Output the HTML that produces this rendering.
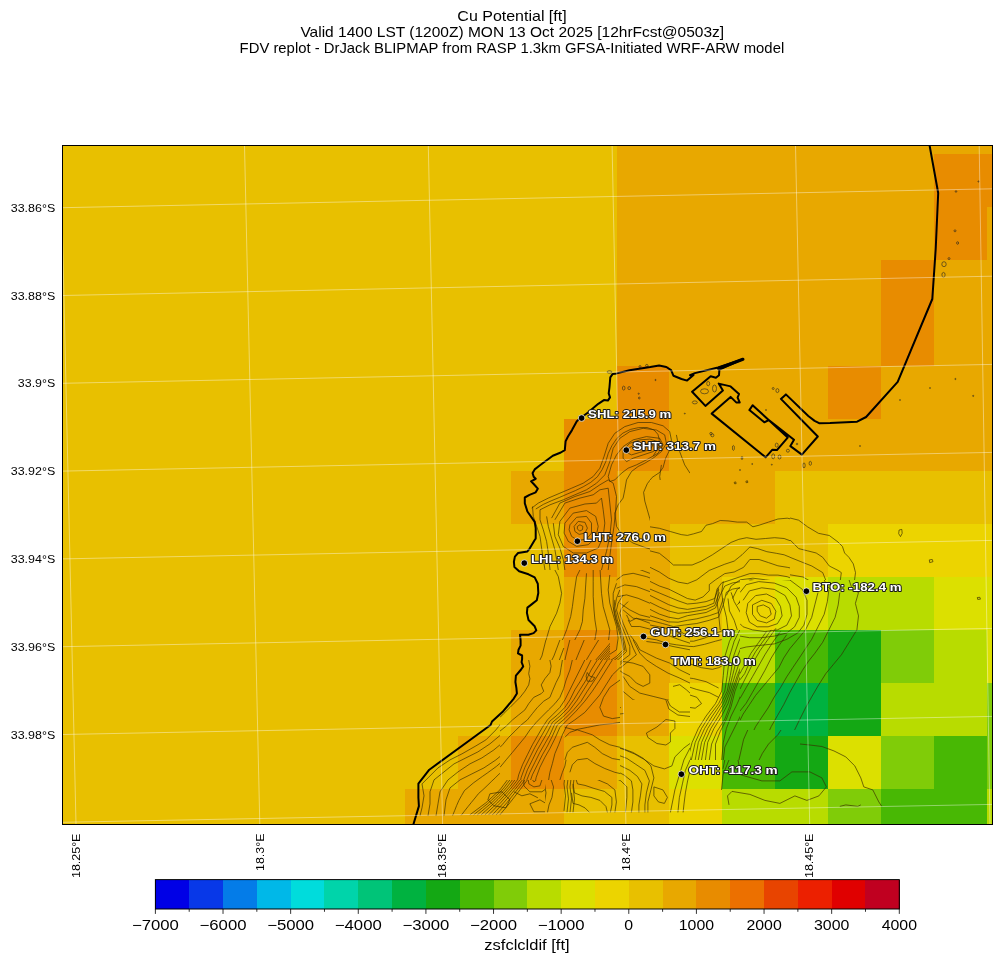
<!DOCTYPE html>
<html><head><meta charset="utf-8"><style>
html,body{margin:0;padding:0;background:#fff;width:1001px;height:962px;overflow:hidden}
svg{display:block;will-change:transform}
text{font-family:"Liberation Sans",sans-serif;fill:#000}
.tt{font-size:14.1px}
.tk{font-size:11.3px}
.cb{font-size:14.1px}
.st{font-family:"Liberation Sans",sans-serif;font-weight:bold;font-size:11.3px;fill:#fff;stroke:#1a1a1a;stroke-width:1.8px;paint-order:stroke;stroke-linejoin:round}
</style></head><body>
<svg width="1001" height="962" viewBox="0 0 1001 962">
<rect x="0" y="0" width="1001" height="962" fill="#fff"/>
<defs><clipPath id="mc"><rect x="62.5" y="145.5" width="930.0" height="679.0"/></clipPath></defs>
<g clip-path="url(#mc)">
<g shape-rendering="crispEdges"><rect x="62.5" y="145.5" width="930.0" height="679.0" fill="#E8C000"/>
<rect x="616.60" y="145.50" width="52.90" height="8.55" fill="#E8A800"/>
<rect x="669.45" y="145.50" width="52.90" height="8.55" fill="#E8A800"/>
<rect x="722.30" y="145.50" width="52.90" height="8.55" fill="#E8A800"/>
<rect x="775.15" y="145.50" width="52.90" height="8.55" fill="#E8A800"/>
<rect x="828.00" y="145.50" width="52.90" height="8.55" fill="#E8A800"/>
<rect x="880.85" y="145.50" width="52.90" height="8.55" fill="#E8A800"/>
<rect x="933.70" y="145.50" width="52.90" height="8.55" fill="#E8A800"/>
<rect x="986.55" y="145.50" width="6.00" height="8.55" fill="#E8A800"/>
<rect x="616.60" y="154.00" width="52.90" height="52.95" fill="#E8A800"/>
<rect x="669.45" y="154.00" width="52.90" height="52.95" fill="#E8A800"/>
<rect x="722.30" y="154.00" width="52.90" height="52.95" fill="#E8A800"/>
<rect x="775.15" y="154.00" width="52.90" height="52.95" fill="#E8A800"/>
<rect x="828.00" y="154.00" width="52.90" height="52.95" fill="#E8A800"/>
<rect x="880.85" y="154.00" width="52.90" height="52.95" fill="#E8A800"/>
<rect x="933.70" y="154.00" width="52.90" height="52.95" fill="#E88C00"/>
<rect x="986.55" y="154.00" width="6.00" height="52.95" fill="#E88C00"/>
<rect x="616.60" y="206.90" width="52.90" height="52.95" fill="#E8A800"/>
<rect x="669.45" y="206.90" width="52.90" height="52.95" fill="#E8A800"/>
<rect x="722.30" y="206.90" width="52.90" height="52.95" fill="#E8A800"/>
<rect x="775.15" y="206.90" width="52.90" height="52.95" fill="#E8A800"/>
<rect x="828.00" y="206.90" width="52.90" height="52.95" fill="#E8A800"/>
<rect x="880.85" y="206.90" width="52.90" height="52.95" fill="#E8A800"/>
<rect x="933.70" y="206.90" width="52.90" height="52.95" fill="#E88C00"/>
<rect x="986.55" y="206.90" width="6.00" height="52.95" fill="#E8A800"/>
<rect x="616.60" y="259.80" width="52.90" height="52.95" fill="#E8A800"/>
<rect x="669.45" y="259.80" width="52.90" height="52.95" fill="#E8A800"/>
<rect x="722.30" y="259.80" width="52.90" height="52.95" fill="#E8A800"/>
<rect x="775.15" y="259.80" width="52.90" height="52.95" fill="#E8A800"/>
<rect x="828.00" y="259.80" width="52.90" height="52.95" fill="#E8A800"/>
<rect x="880.85" y="259.80" width="52.90" height="52.95" fill="#E88C00"/>
<rect x="933.70" y="259.80" width="52.90" height="52.95" fill="#E8A800"/>
<rect x="986.55" y="259.80" width="6.00" height="52.95" fill="#E8A800"/>
<rect x="616.60" y="312.70" width="52.90" height="52.95" fill="#E8A800"/>
<rect x="669.45" y="312.70" width="52.90" height="52.95" fill="#E8A800"/>
<rect x="722.30" y="312.70" width="52.90" height="52.95" fill="#E8A800"/>
<rect x="775.15" y="312.70" width="52.90" height="52.95" fill="#E8A800"/>
<rect x="828.00" y="312.70" width="52.90" height="52.95" fill="#E8A800"/>
<rect x="880.85" y="312.70" width="52.90" height="52.95" fill="#E88C00"/>
<rect x="933.70" y="312.70" width="52.90" height="52.95" fill="#E8A800"/>
<rect x="986.55" y="312.70" width="6.00" height="52.95" fill="#E8A800"/>
<rect x="616.60" y="365.60" width="52.90" height="52.95" fill="#E88C00"/>
<rect x="669.45" y="365.60" width="52.90" height="52.95" fill="#E8A800"/>
<rect x="722.30" y="365.60" width="52.90" height="52.95" fill="#E8A800"/>
<rect x="775.15" y="365.60" width="52.90" height="52.95" fill="#E8A800"/>
<rect x="828.00" y="365.60" width="52.90" height="52.95" fill="#E88C00"/>
<rect x="880.85" y="365.60" width="52.90" height="52.95" fill="#E8A800"/>
<rect x="933.70" y="365.60" width="52.90" height="52.95" fill="#E8A800"/>
<rect x="986.55" y="365.60" width="6.00" height="52.95" fill="#E8A800"/>
<rect x="563.75" y="418.50" width="52.90" height="52.95" fill="#E88C00"/>
<rect x="616.60" y="418.50" width="52.90" height="52.95" fill="#E88C00"/>
<rect x="669.45" y="418.50" width="52.90" height="52.95" fill="#E8A800"/>
<rect x="722.30" y="418.50" width="52.90" height="52.95" fill="#E8A800"/>
<rect x="775.15" y="418.50" width="52.90" height="52.95" fill="#E8A800"/>
<rect x="828.00" y="418.50" width="52.90" height="52.95" fill="#E8A800"/>
<rect x="880.85" y="418.50" width="52.90" height="52.95" fill="#E8A800"/>
<rect x="933.70" y="418.50" width="52.90" height="52.95" fill="#E8A800"/>
<rect x="986.55" y="418.50" width="6.00" height="52.95" fill="#E8A800"/>
<rect x="510.90" y="471.40" width="52.90" height="52.95" fill="#E8A800"/>
<rect x="563.75" y="471.40" width="52.90" height="52.95" fill="#E88C00"/>
<rect x="616.60" y="471.40" width="52.90" height="52.95" fill="#E8A800"/>
<rect x="669.45" y="471.40" width="52.90" height="52.95" fill="#E8A800"/>
<rect x="722.30" y="471.40" width="52.90" height="52.95" fill="#E8A800"/>
<rect x="563.75" y="524.30" width="52.90" height="52.95" fill="#E88C00"/>
<rect x="616.60" y="524.30" width="52.90" height="52.95" fill="#E8A800"/>
<rect x="828.00" y="524.30" width="52.90" height="52.95" fill="#ECD400"/>
<rect x="880.85" y="524.30" width="52.90" height="52.95" fill="#ECD400"/>
<rect x="933.70" y="524.30" width="52.90" height="52.95" fill="#ECD400"/>
<rect x="986.55" y="524.30" width="6.00" height="52.95" fill="#ECD400"/>
<rect x="563.75" y="577.20" width="52.90" height="52.95" fill="#E8A800"/>
<rect x="616.60" y="577.20" width="52.90" height="52.95" fill="#E8A800"/>
<rect x="722.30" y="577.20" width="52.90" height="52.95" fill="#ECD400"/>
<rect x="775.15" y="577.20" width="52.90" height="52.95" fill="#DCE000"/>
<rect x="828.00" y="577.20" width="52.90" height="52.95" fill="#B8DC00"/>
<rect x="880.85" y="577.20" width="52.90" height="52.95" fill="#B8DC00"/>
<rect x="933.70" y="577.20" width="52.90" height="52.95" fill="#DCE000"/>
<rect x="986.55" y="577.20" width="6.00" height="52.95" fill="#DCE000"/>
<rect x="510.90" y="630.10" width="52.90" height="52.95" fill="#E8A800"/>
<rect x="563.75" y="630.10" width="52.90" height="52.95" fill="#E88C00"/>
<rect x="616.60" y="630.10" width="52.90" height="52.95" fill="#E8A800"/>
<rect x="722.30" y="630.10" width="52.90" height="52.95" fill="#B8DC00"/>
<rect x="775.15" y="630.10" width="52.90" height="52.95" fill="#48B804"/>
<rect x="828.00" y="630.10" width="52.90" height="52.95" fill="#14A814"/>
<rect x="880.85" y="630.10" width="52.90" height="52.95" fill="#80CC08"/>
<rect x="933.70" y="630.10" width="52.90" height="52.95" fill="#B8DC00"/>
<rect x="986.55" y="630.10" width="6.00" height="52.95" fill="#DCE000"/>
<rect x="510.90" y="683.00" width="52.90" height="52.95" fill="#E8A800"/>
<rect x="563.75" y="683.00" width="52.90" height="52.95" fill="#E88C00"/>
<rect x="616.60" y="683.00" width="52.90" height="52.95" fill="#E8A800"/>
<rect x="669.45" y="683.00" width="52.90" height="52.95" fill="#ECD400"/>
<rect x="722.30" y="683.00" width="52.90" height="52.95" fill="#48B804"/>
<rect x="775.15" y="683.00" width="52.90" height="52.95" fill="#00B240"/>
<rect x="828.00" y="683.00" width="52.90" height="52.95" fill="#14A814"/>
<rect x="880.85" y="683.00" width="52.90" height="52.95" fill="#B8DC00"/>
<rect x="933.70" y="683.00" width="52.90" height="52.95" fill="#B8DC00"/>
<rect x="986.55" y="683.00" width="6.00" height="52.95" fill="#80CC08"/>
<rect x="458.05" y="735.90" width="52.90" height="52.95" fill="#E8A800"/>
<rect x="510.90" y="735.90" width="52.90" height="52.95" fill="#E88C00"/>
<rect x="563.75" y="735.90" width="52.90" height="52.95" fill="#E8A800"/>
<rect x="669.45" y="735.90" width="52.90" height="52.95" fill="#DCE000"/>
<rect x="722.30" y="735.90" width="52.90" height="52.95" fill="#48B804"/>
<rect x="775.15" y="735.90" width="52.90" height="52.95" fill="#14A814"/>
<rect x="828.00" y="735.90" width="52.90" height="52.95" fill="#DCE000"/>
<rect x="880.85" y="735.90" width="52.90" height="52.95" fill="#80CC08"/>
<rect x="933.70" y="735.90" width="52.90" height="52.95" fill="#48B804"/>
<rect x="986.55" y="735.90" width="6.00" height="52.95" fill="#80CC08"/>
<rect x="405.20" y="788.80" width="52.90" height="35.75" fill="#E8A800"/>
<rect x="458.05" y="788.80" width="52.90" height="35.75" fill="#E8A800"/>
<rect x="510.90" y="788.80" width="52.90" height="35.75" fill="#E8A800"/>
<rect x="669.45" y="788.80" width="52.90" height="35.75" fill="#ECD400"/>
<rect x="722.30" y="788.80" width="52.90" height="35.75" fill="#B8DC00"/>
<rect x="775.15" y="788.80" width="52.90" height="35.75" fill="#B8DC00"/>
<rect x="828.00" y="788.80" width="52.90" height="35.75" fill="#80CC08"/>
<rect x="880.85" y="788.80" width="52.90" height="35.75" fill="#48B804"/>
<rect x="933.70" y="788.80" width="52.90" height="35.75" fill="#48B804"/>
<rect x="986.55" y="788.80" width="6.00" height="35.75" fill="#B8DC00"/></g>
<defs><clipPath id="ct0"><rect x="500.0" y="365.0" width="100.0" height="45.0"/><rect x="500.0" y="410.0" width="20.0" height="75.0"/></clipPath><clipPath id="ct1"><rect x="600.0" y="365.0" width="120.0" height="45.0"/><rect x="690.0" y="410.0" width="30.0" height="75.0"/></clipPath><clipPath id="ct2"><rect x="500.0" y="485.0" width="20.0" height="120.0"/></clipPath><clipPath id="ct3"><rect x="650.0" y="480.0" width="140.0" height="100.0"/><rect x="650.0" y="580.0" width="90.0" height="50.0"/></clipPath><clipPath id="ct4"><rect x="790.0" y="470.0" width="210.0" height="110.0"/><rect x="890.0" y="580.0" width="110.0" height="100.0"/></clipPath><clipPath id="ct5"><rect x="410.0" y="600.0" width="110.0" height="40.0"/></clipPath><clipPath id="ct6"><rect x="520.0" y="570.0" width="130.0" height="60.0"/><rect x="520.0" y="630.0" width="170.0" height="10.0"/><rect x="620.0" y="640.0" width="70.0" height="60.0"/><rect x="610.0" y="640.0" width="10.0" height="20.0"/></clipPath><clipPath id="ct7"><rect x="690.0" y="630.0" width="50.0" height="130.0"/><rect x="740.0" y="730.0" width="60.0" height="30.0"/></clipPath><clipPath id="ct8"><rect x="0.0" y="0.0" width="0.0" height="0.0"/></clipPath><clipPath id="ct9"><rect x="620.0" y="700.0" width="70.0" height="130.0"/><rect x="545.0" y="780.0" width="75.0" height="50.0"/></clipPath><clipPath id="ct10"><rect x="690.0" y="760.0" width="110.0" height="70.0"/><rect x="890.0" y="680.0" width="110.0" height="150.0"/><rect x="800.0" y="730.0" width="90.0" height="100.0"/></clipPath><clipPath id="ct11"><rect x="520.0" y="410.0" width="170.0" height="70.0"/><rect x="520.0" y="480.0" width="130.0" height="90.0"/></clipPath><clipPath id="ct12"><rect x="400.0" y="640.0" width="100.0" height="190.0"/><rect x="500.0" y="640.0" width="110.0" height="20.0"/><rect x="500.0" y="780.0" width="45.0" height="50.0"/></clipPath><clipPath id="ct13"><rect x="500.0" y="660.0" width="120.0" height="120.0"/></clipPath><clipPath id="ct14"><rect x="740.0" y="580.0" width="150.0" height="150.0"/></clipPath></defs><g fill="none" stroke="#3a2e00" stroke-opacity="0.8" stroke-width="0.85" stroke-linejoin="round"><g clip-path="url(#ct0)">
<polyline points="548.7,485.0 563.7,485.0 571.2,481.0 579.9,477.3 586.1,472.3 591.1,464.8 593.6,454.8 597.4,444.8 601.1,437.3 606.1,431.1 612.3,426.1 619.8,423.0 629.8,421.8 639.8,422.4 650.0,423.6"/>
<polyline points="578.6,485.0 584.9,481.0 589.9,474.8 594.9,467.3 598.0,457.3 601.1,448.6 604.8,441.1 609.8,436.1 616.1,432.4 622.3,428.6 629.8,427.4 637.3,428.6 644.8,431.1 650.0,432.4"/>
<polyline points="592.4,485.0 596.1,477.3 599.9,469.8 602.3,459.8 604.8,452.3 608.6,444.8 613.6,439.8 619.8,436.1 626.0,433.6 633.5,433.0 639.8,434.2 646.0,436.7 650.0,437.3"/>
<polyline points="597.4,485.0 601.1,477.3 604.8,468.5 607.3,459.8 609.8,452.3 614.8,447.3 621.1,442.3 628.5,439.8 636.0,439.8 642.3,442.3 650.0,444.8"/>
<polyline points="617.3,457.3 619.8,451.1 624.8,446.1 632.3,444.8 638.5,447.3 642.3,451.1 639.8,454.8 633.5,456.1 627.3,457.3 622.3,459.8 617.3,463.5 616.1,461.0 617.3,457.3"/>
<polyline points="607.3,485.0 609.8,474.8 612.3,467.3 617.3,463.5"/>
<polyline points="619.8,467.3 624.8,464.8 629.8,463.5 636.0,461.0 642.3,459.8 650.0,458.6"/>
<polyline points="629.8,485.0 631.0,477.3 634.8,472.3 642.3,469.8 650.0,468.5"/>
<polyline points="642.3,485.0 646.0,479.8 650.0,477.3"/>
</g>
<g clip-path="url(#ct1)">
<polyline points="600.0,446.1 603.7,437.3 610.0,429.9 618.7,424.9 628.7,422.4 639.9,421.7 649.9,423.0 658.6,424.2 666.1,425.5 671.1,429.2 673.6,434.8 673.6,441.1 671.1,447.3 668.0,452.3 665.5,459.8 663.6,468.5 662.4,480.0"/>
<polyline points="602.5,454.8 607.5,442.3 613.7,433.6 622.5,429.2 632.4,428.0 642.4,429.9 652.4,432.3 659.9,434.8 664.9,437.3 667.4,442.3 663.6,447.3 658.0,451.1 654.9,457.3 653.6,466.0 653.0,480.0"/>
<polyline points="608.7,459.8 612.5,447.3 618.7,438.6 627.4,434.8 636.2,434.8 643.7,437.3 651.1,439.8 656.1,442.3 654.9,447.3 649.9,451.1 644.9,454.8 641.2,461.0 638.0,468.5 636.2,480.0"/>
<polyline points="622.5,446.1 626.2,441.1 633.7,439.8 639.9,441.1 644.9,444.8 641.2,449.8 634.9,452.3 628.7,454.8 623.7,452.3 622.5,446.1"/>
<polyline points="615.0,480.0 617.5,469.8 621.2,462.3 624.9,458.5 629.9,457.3"/>
</g>
<g clip-path="url(#ct2)">
<polyline points="576.2,526.2 579.9,522.4 583.6,524.9 583.6,529.9 579.9,532.4 576.8,530.5 576.2,526.2"/>
<polyline points="572.4,526.2 577.4,519.9 584.9,521.2 587.4,528.7 584.9,534.9 579.9,536.1 574.9,533.6 572.4,526.2"/>
<polyline points="567.4,522.4 573.7,516.2 583.6,514.9 591.1,518.7 593.6,527.4 591.1,536.1 584.9,541.1 577.4,542.4 571.2,538.6 567.4,531.2 567.4,522.4"/>
<polyline points="562.4,518.7 569.9,511.2 582.4,509.9 593.6,512.4 598.6,522.4 597.4,534.9 593.6,543.6 586.1,548.6 576.2,549.9 568.7,546.1 563.7,537.4 561.2,527.4 562.4,518.7"/>
<polyline points="556.2,514.9 564.9,506.2 577.4,503.7 588.6,502.5 594.9,497.5 602.3,495.0 602.3,503.7 601.1,516.2 603.6,528.7 602.3,541.1 599.9,549.9 592.4,554.9 582.4,557.3 574.9,556.1 566.2,552.4 559.9,544.9 556.2,534.9 554.9,524.9 556.2,514.9"/>
<polyline points="532.5,502.3 540.0,497.3 551.2,491.1 563.7,484.9"/>
<polyline points="540.0,509.8 548.7,503.6 561.2,498.6 573.7,494.9 582.4,491.1 589.9,484.9"/>
<polyline points="543.7,508.6 554.9,504.8 567.4,502.3 579.9,499.8 587.4,496.1 594.9,489.9 599.9,483.6"/>
<polyline points="535.0,498.7 532.5,507.5 535.0,517.4 540.0,526.2 542.5,537.4 543.7,549.9 547.5,562.3 551.2,574.8 554.9,588.5 557.4,605.0"/>
<polyline points="541.2,507.5 542.5,517.4 545.0,526.2 547.5,537.4 550.0,549.9 554.9,562.3 558.7,574.8 562.4,588.5 564.9,605.0"/>
<polyline points="550.0,516.2 550.0,526.2 551.8,537.4 554.9,547.4 559.9,557.3 564.9,567.3 568.7,577.3 571.2,589.8 573.0,605.0"/>
<polyline points="579.9,564.8 578.6,572.3 577.4,582.3 578.6,592.3 579.9,605.0"/>
<polyline points="586.1,566.1 587.4,574.8 588.6,584.8 589.9,594.8 591.1,605.0"/>
<polyline points="594.9,559.8 594.9,569.8 597.4,579.8 599.9,589.8 601.1,605.0"/>
<polyline points="604.8,485.0 603.6,495.0 606.1,505.0 608.6,516.2 608.6,528.7 607.3,541.1 608.6,552.4 611.1,562.3 612.3,572.3 611.1,584.8 612.3,597.3 613.6,605.0"/>
<polyline points="619.8,485.0 621.1,497.5 624.8,509.9 622.3,522.4 624.8,532.4 627.3,539.9 629.8,547.4 632.3,554.9 636.0,559.8 642.3,562.3 650.0,564.8"/>
<polyline points="642.3,485.0 643.5,495.0 648.5,503.7 650.0,509.9"/>
<polyline points="617.3,564.8 629.8,569.8 642.3,572.3 650.0,574.8"/>
<polyline points="611.1,574.8 617.3,582.3 627.3,584.8 636.0,588.5 650.0,591.0"/>
<polyline points="612.3,591.0 622.3,594.8 632.3,597.3 642.3,601.0 650.0,603.5"/>
</g>
<g clip-path="url(#ct3)">
<polyline points="650.0,526.8 659.4,528.3 670.3,531.5 681.2,534.6 687.4,535.4 693.7,533.8 701.5,531.5 706.1,525.2 712.4,523.7 720.2,520.5 728.0,520.9 737.3,522.1 746.7,522.1 752.9,526.8 759.1,525.2 768.5,522.1 777.9,519.0 787.2,518.2 795.0,519.8 800.0,522.1"/>
<polyline points="650.0,550.9 659.4,553.3 667.2,559.5 673.4,565.0 681.2,565.0 692.1,565.0 701.5,561.1 712.4,554.8 721.7,548.6 731.1,542.4 738.9,539.3 746.7,537.7 756.0,539.3 765.4,538.5 774.7,537.7 784.1,538.5 790.3,540.8 796.6,547.0 800.0,550.2"/>
<polyline points="650.0,567.3 659.4,572.0 668.7,578.2 678.1,582.1 687.4,583.7 696.8,579.8 703.0,575.1 709.3,570.4 717.0,567.3 724.8,564.2 734.2,561.1 742.0,554.8 749.8,547.0 757.6,548.6 766.9,551.7 776.3,553.3 784.1,554.8 791.9,558.0 800.0,561.1"/>
<polyline points="650.0,581.4 659.4,586.0 668.7,589.1 678.1,593.8 687.4,598.5 695.2,600.1 703.0,596.9 709.3,590.7 709.3,584.5 715.5,579.8 724.8,573.6 734.2,572.0 743.6,567.3 749.8,559.5 759.1,559.5 768.5,562.6 777.9,565.8 787.2,567.3 795.0,568.9 800.0,570.4"/>
<polyline points="650.0,595.4 659.4,600.1 668.7,604.7 678.1,607.9 687.4,609.4 696.8,607.9 706.1,606.3 713.9,603.2 717.0,589.1 721.7,582.9 731.1,579.8 740.4,576.7 749.8,573.6 759.1,573.6 768.5,575.1 777.9,575.1 787.2,576.7 795.0,579.8 800.0,582.9"/>
<polyline points="650.0,609.4 659.4,614.1 668.7,617.2 678.1,618.8 687.4,615.7 696.8,614.1 706.1,612.5 715.5,607.9 720.2,595.4 724.8,586.0 732.6,582.9 742.0,581.4 751.4,579.8 759.1,581.4 766.9,582.9 774.7,584.5 784.1,586.0 791.9,589.1 800.0,592.3"/>
<polyline points="650.0,620.3 662.5,623.5 673.4,626.6 684.3,625.0 696.8,623.5 709.3,620.3 718.6,617.2 723.3,604.7 726.4,592.3 732.6,589.1 740.4,587.6 749.8,586.0 759.1,587.6 768.5,589.1 777.9,590.7 785.7,593.8 790.3,598.5 795.0,603.2 800.0,606.3"/>
<polyline points="757.6,609.4 762.3,604.7 768.5,606.3 770.8,611.0 768.5,617.2 763.8,618.0 759.1,614.1 757.6,609.4"/>
<polyline points="752.9,607.9 759.1,601.6 770.1,603.2 774.7,609.4 773.2,618.8 766.9,621.9 759.1,620.3 753.7,614.1 752.9,607.9"/>
<polyline points="737.3,604.7 743.6,598.5 752.9,595.4 765.4,595.4 774.7,598.5 781.0,604.7 782.5,614.1 779.4,623.5 774.7,630.0"/>
<polyline points="731.1,592.3 734.2,601.6 740.4,612.5 746.7,623.5 749.8,630.0"/>
<polyline points="728.0,598.5 729.5,611.0 734.2,620.3 737.3,630.0"/>
<polyline points="781.0,589.1 787.2,592.3 791.9,598.5 795.0,607.9 796.6,617.2 798.1,630.0"/>
<polyline points="784.1,598.5 788.8,604.7 790.3,614.1 790.3,623.5 788.8,630.0"/>
<polyline points="650.0,625.0 665.6,628.1 673.4,630.0"/>
<polyline points="743.6,604.7 749.8,598.5 759.1,595.4 768.5,596.2 776.3,600.1 781.0,606.3 781.0,615.7 776.3,623.5 768.5,628.1 759.1,628.1 749.8,623.5 745.1,615.7 743.6,604.7"/>
<polyline points="738.9,603.2 743.6,593.8 752.9,589.1 765.4,589.1 774.7,592.3 782.5,598.5 787.2,606.3 787.2,617.2 782.5,626.6 777.9,630.0"/>
<polyline points="732.6,598.5 737.3,589.1 746.7,584.5 759.1,582.9 771.6,584.5 781.0,589.1 788.8,593.8 793.5,603.2 795.0,612.5 793.5,623.5 790.3,630.0"/>
<polyline points="726.4,595.4 731.1,586.0 740.4,579.8 752.9,578.2 765.4,579.8 776.3,581.4 785.7,586.0 793.5,590.7 798.1,598.5 800.0,604.7"/>
<polyline points="723.3,581.4 721.7,592.3 723.3,604.7 726.4,617.2 728.0,630.0"/>
<polyline points="718.6,589.1 717.0,601.6 718.6,614.1 720.2,630.0"/>
<polyline points="650.0,589.1 659.4,593.0 668.7,596.9 678.1,600.8 687.4,604.0 696.8,603.2 706.1,601.6 714.7,598.5 718.6,587.6"/>
<polyline points="650.0,602.4 659.4,607.1 668.7,611.0 678.1,613.3 687.4,612.5 696.8,611.0 706.1,609.4 714.7,605.5 719.4,592.3"/>
<polyline points="650.0,615.7 659.4,618.8 668.7,621.9 678.1,622.2 687.4,620.3 696.8,618.8 709.3,615.7 718.6,612.5 723.3,598.5"/>
<polyline points="734.2,482.3 735.8,481.9 736.1,483.7 734.5,483.7 734.2,482.3"/>
<polyline points="745.9,481.2 747.5,480.8 747.8,482.5 746.2,482.7 745.9,481.2"/>
</g>
<g clip-path="url(#ct4)">
<polyline points="790.0,518.0 798.7,520.2 807.5,526.8 818.4,533.3 829.3,535.5 838.0,542.0 842.4,546.4 844.6,553.0 848.9,557.3 853.3,563.9 855.5,572.6 854.4,581.3 853.3,592.2 855.5,601.0 857.7,611.9 859.9,620.6 857.7,627.2 855.5,633.7 851.1,640.3 846.8,649.0 840.2,657.7 833.7,666.5 827.1,675.2 822.7,680.0"/>
<polyline points="790.0,539.9 798.7,548.6 807.5,550.8 816.2,553.0 822.7,557.3 829.3,566.0 838.0,570.4 841.3,572.6 840.2,581.3 836.9,592.2 835.8,601.0 840.2,609.7 842.4,618.4 840.2,627.2 835.8,635.9 829.3,644.6 822.7,655.5 816.2,666.5 809.6,680.0"/>
<polyline points="790.0,557.3 800.9,561.7 811.8,566.0 822.7,572.6 827.1,583.5 828.2,594.4 829.3,605.3 827.1,618.4 822.7,629.4 816.2,640.3 807.5,651.2 800.9,662.1 794.4,673.0 790.0,680.0"/>
<polyline points="790.0,574.8 803.1,577.0 814.0,583.5 818.4,592.2 818.4,605.3 814.0,618.4 807.5,629.4 800.9,642.5 794.4,655.5 790.0,662.1"/>
<polyline points="790.0,587.9 796.5,592.2 798.7,598.8 794.4,605.3 790.0,607.5"/>
<polyline points="790.0,583.5 800.9,587.9 803.1,598.8 798.7,609.7 790.0,616.3"/>
<polyline points="899.1,530.0 901.8,529.4 902.2,533.3 900.5,536.6 898.7,533.7 899.1,530.0"/>
<polyline points="929.3,559.9 932.3,559.5 933.0,561.7 929.7,562.6 929.3,559.9"/>
<polyline points="977.3,597.5 979.9,597.3 980.4,599.2 977.7,599.4 977.3,597.5"/>
</g>
<g clip-path="url(#ct5)">
<polyline points="563.0,600.0 553.1,620.0 548.1,633.3 544.7,648.2 536.4,661.5 528.9,674.8 529.8,686.5 519.8,696.5 509.8,708.1 503.2,719.8 494.8,729.7 483.2,741.4 473.2,749.7 461.6,757.2 458.3,760.0"/>
<polyline points="573.0,600.0 570.5,620.0 564.7,633.3 556.4,643.2 551.4,654.9 551.4,666.5 543.1,678.2 539.8,684.8 543.9,691.5 534.8,696.5 526.4,706.4 518.1,716.4 508.1,728.1 499.8,736.4 491.5,746.4 484.9,754.7 481.5,760.0"/>
<polyline points="580.0,638.3 569.7,649.9 561.4,663.2 558.0,673.2 551.4,683.2 548.1,693.1 543.1,703.1 534.8,713.1 526.4,724.7 516.5,736.4 508.1,746.4 501.5,756.3 499.8,760.0"/>
<polyline points="580.0,654.9 573.0,666.5 566.4,678.2 561.4,689.8 556.4,699.8 549.7,709.8 541.4,719.8 533.1,731.4 523.1,743.0 514.8,754.7 511.5,760.0"/>
<polyline points="580.0,669.9 574.7,679.8 569.7,689.8 564.7,699.8 558.0,709.8 551.4,719.8 543.1,731.4 534.8,743.0 526.4,754.7 523.1,760.0"/>
<polyline points="580.0,679.8 576.3,689.8 571.4,699.8 566.4,708.1 559.7,716.4 553.1,726.4 546.4,738.0 539.8,749.7 534.8,760.0"/>
<polyline points="580.0,689.8 578.0,699.8 573.0,708.1 568.0,714.8 561.4,723.1 554.7,733.1 549.7,744.7 544.7,754.7 543.1,760.0"/>
<polyline points="580.0,699.8 576.3,709.8 569.7,716.4 564.7,724.7 558.0,734.7 553.1,746.4 549.7,760.0"/>
</g>
<g clip-path="url(#ct6)">
<polyline points="554.9,570.0 558.3,576.6 561.6,593.3 559.9,603.2 556.6,613.2 550.0,626.5 546.6,638.2 543.3,649.8 540.0,663.1 536.7,673.1 533.3,683.1 530.0,691.4"/>
<polyline points="579.9,570.0 576.6,576.6 574.1,593.3 572.4,606.6 570.7,616.5 566.6,629.9 563.3,638.2 556.6,649.8 551.6,659.8 548.3,669.8 545.0,679.8 541.6,689.7 540.0,699.7 536.7,709.7 535.0,720.0"/>
<polyline points="586.5,573.3 585.7,584.9 584.9,598.3 583.2,609.9 582.4,621.5 579.9,629.9 574.9,639.8 569.9,649.8 564.9,659.8 560.8,669.8 556.6,679.8 552.5,689.7 548.3,699.7 545.0,709.7 541.6,720.0"/>
<polyline points="593.2,568.3 593.2,581.6 593.2,596.6 594.0,609.9 594.9,619.9 596.5,629.9 594.9,639.8 586.5,648.1 578.2,656.5 571.6,666.4 566.6,676.4 561.6,686.4 556.6,696.4 551.6,706.4 548.3,720.0"/>
<polyline points="599.9,566.7 600.7,580.0 601.5,593.3 603.2,606.6 606.5,618.2 609.8,629.9 608.2,643.2 599.9,651.5 589.9,659.8 581.6,669.8 574.9,679.8 569.9,689.7 564.9,699.7 559.9,709.7 556.6,720.0"/>
<polyline points="609.8,575.0 608.2,589.9 609.8,603.2 613.2,614.9 616.5,626.5 618.1,638.2 616.5,649.8 606.5,656.5 596.5,663.1 588.2,673.1 581.6,683.1 574.9,693.1 569.9,703.0 564.9,713.0 563.3,720.0"/>
<polyline points="616.5,583.3 613.2,593.3 613.2,606.6 614.8,616.5 618.1,628.2 621.5,639.8 623.1,649.8 616.5,656.5 606.5,663.1 596.5,673.1 589.9,683.1 583.2,693.1 576.6,703.0 571.6,713.0 569.9,720.0"/>
<polyline points="619.8,589.9 616.5,598.3 614.8,608.2 617.3,619.9 621.5,631.5 624.8,643.2 626.5,651.5 619.8,658.1 609.8,666.4 599.9,676.4 593.2,686.4 586.5,696.4 579.9,706.4 574.9,716.3 573.2,720.0"/>
<polyline points="623.1,594.9 618.1,603.2 616.5,609.9 619.8,621.5 624.8,633.2 629.8,646.5 629.8,654.8 623.1,659.8 613.2,668.1 603.2,679.8 596.5,689.7 589.9,699.7 584.9,709.7 579.9,720.0"/>
<polyline points="628.1,601.6 621.5,608.2 619.8,613.2 623.1,623.2 628.1,634.8 633.1,648.1 636.4,654.8 628.1,661.5 618.1,669.8 608.2,681.4 601.5,691.4 594.9,701.4 589.9,711.4 586.5,720.0"/>
<polyline points="614.8,599.9 614.0,609.9 616.2,619.9 619.8,629.9 623.1,641.5 624.8,650.6 618.1,657.3 608.2,664.8 598.2,674.8 591.5,684.7 584.9,694.7 578.2,704.7 573.6,714.7 571.6,720.0"/>
<polyline points="629.8,560.0 643.1,563.3 656.4,568.3 669.7,571.6 683.0,575.0 690.0,575.8"/>
<polyline points="623.1,566.7 636.4,568.3 649.8,573.3 663.1,578.3 676.4,581.6 690.0,583.3"/>
<polyline points="616.5,580.0 623.1,575.0 633.1,573.3 646.4,576.6 659.7,581.6 673.0,586.6 684.7,591.6 690.0,593.3"/>
<polyline points="616.5,588.3 624.8,584.9 636.4,586.6 649.8,591.6 663.1,596.6 676.4,601.6 690.0,604.9"/>
<polyline points="618.1,596.6 626.5,594.9 638.1,598.3 649.8,603.2 663.1,608.2 676.4,613.2 690.0,616.5"/>
<polyline points="619.8,603.2 629.8,609.9 639.8,614.9 653.1,618.2 666.4,621.5 679.7,626.5 690.0,629.9"/>
<polyline points="623.1,609.9 633.1,618.2 646.4,619.9 659.7,621.5 673.0,626.5 683.0,633.2 690.0,636.5"/>
<polyline points="626.5,614.9 629.8,621.5 636.4,618.2 649.8,623.2 663.1,626.5 676.4,631.5 690.0,638.2"/>
<polyline points="628.1,619.9 631.5,626.5 639.8,626.5 653.1,629.9 666.4,634.8 679.7,639.8 690.0,643.2"/>
<polyline points="646.4,638.2 656.4,639.8 666.4,643.2 676.4,644.8 690.0,646.5"/>
<polyline points="646.4,641.5 659.7,643.2 673.0,646.5 690.0,649.8"/>
<polyline points="629.8,634.8 636.4,643.2 639.8,649.8 646.4,653.1 656.4,658.1 669.7,663.1 679.7,669.8 690.0,674.8"/>
<polyline points="633.1,639.8 639.8,653.1 646.4,659.8 656.4,666.4 668.0,673.1 679.7,678.1 690.0,683.1"/>
<polyline points="616.5,668.1 623.1,661.5 633.1,663.1 643.1,666.4 649.8,674.8 649.8,683.1 643.1,686.4 636.4,683.1 629.8,676.4 623.1,673.1 616.5,668.1"/>
<polyline points="623.1,676.4 629.8,686.4 639.8,693.1 653.1,696.4 666.4,699.7 679.7,703.0 690.0,704.7"/>
<polyline points="623.1,691.4 633.1,699.7 646.4,704.7 659.7,706.4 673.0,708.0 690.0,709.7"/>
<polyline points="673.0,686.4 679.7,684.7 686.3,689.7 690.0,693.1"/>
<polyline points="603.2,720.0 609.8,714.7 619.8,713.0 623.1,709.7"/>
</g>
<g clip-path="url(#ct7)">
<polyline points="650.0,619.4 662.5,622.5 674.9,625.6 687.4,628.7 696.8,627.2 706.1,624.0 715.5,619.4 724.8,614.7 734.2,610.0"/>
<polyline points="650.0,625.6 665.6,636.5 681.2,641.2 693.7,641.2 704.6,638.1 715.5,633.4 723.3,630.3"/>
<polyline points="668.7,639.6 681.2,645.9 693.7,646.6 704.6,644.3 715.5,641.2 721.7,639.6"/>
<polyline points="650.0,649.0 662.5,652.1 674.9,656.8 687.4,663.0 701.5,667.7 712.4,669.3 718.6,667.7 721.7,666.1"/>
<polyline points="650.0,661.5 659.4,666.1 668.7,672.4 681.2,677.0 693.7,678.6 706.1,681.7 715.5,686.4 718.6,688.0"/>
<polyline points="650.0,672.4 656.2,680.2 665.6,684.8 676.5,683.3 687.4,686.4 696.8,689.5 709.3,692.6 718.6,697.3"/>
<polyline points="670.3,697.3 676.5,688.0 687.4,694.2 696.8,697.3 701.5,703.6 695.2,708.2 684.3,706.7 676.5,705.1 670.3,703.6 670.3,697.3"/>
<polyline points="650.0,691.1 659.4,697.3 665.6,706.7 664.0,716.0 667.2,725.4 673.4,733.2 681.2,739.4 687.4,747.2 690.5,760.0"/>
<polyline points="650.0,706.7 656.2,712.9 659.4,722.3 662.5,731.6 668.7,741.0 674.9,750.3 678.1,760.0"/>
<polyline points="650.0,726.9 654.7,734.7 657.8,745.7 660.9,760.0"/>
<polyline points="737.3,610.0 737.3,625.6 729.5,641.2 724.8,656.8 723.3,675.5 721.7,691.1 715.5,703.6 706.1,716.0 698.3,728.5 692.1,742.5 687.4,760.0"/>
<polyline points="743.6,610.0 742.0,625.6 734.2,641.2 729.5,656.8 727.2,675.5 724.8,691.1 718.6,703.6 709.3,716.0 701.5,728.5 695.2,742.5 691.3,760.0"/>
<polyline points="748.2,610.0 746.7,625.6 738.9,641.2 733.4,656.8 730.3,675.5 727.2,691.1 720.9,703.6 712.4,716.0 704.6,728.5 698.3,742.5 695.2,760.0"/>
<polyline points="752.9,610.0 750.6,625.6 743.6,641.2 737.3,656.8 732.6,675.5 728.7,691.1 723.3,703.6 715.5,716.0 707.7,728.5 701.5,742.5 698.3,760.0"/>
<polyline points="757.6,610.0 754.5,625.6 747.5,641.2 741.2,656.8 735.0,675.5 730.3,691.1 725.6,703.6 718.6,716.0 710.8,728.5 704.6,742.5 701.5,760.0"/>
<polyline points="762.3,610.0 759.1,625.6 751.4,641.2 745.1,656.8 737.3,675.5 731.9,691.1 728.0,703.6 721.7,716.0 713.9,728.5 707.7,742.5 705.4,760.0"/>
<polyline points="766.9,610.0 763.8,625.6 755.3,641.2 748.2,656.8 739.7,672.4 733.4,691.1 729.5,706.7 724.8,719.1 717.0,731.6 711.6,744.1 709.3,760.0"/>
<polyline points="771.6,610.0 768.5,625.6 759.1,641.2 751.4,656.8 742.0,672.4 735.0,691.1 731.1,706.7 726.4,719.1 720.2,731.6 715.5,744.1 715.5,760.0"/>
<polyline points="787.2,630.3 777.9,641.2 768.5,650.5 762.3,659.9 756.0,672.4 749.8,683.3 742.0,692.6 737.3,703.6 731.1,716.0 726.4,728.5 723.3,742.5 721.7,760.0"/>
<polyline points="800.0,634.9 790.3,644.3 782.5,653.7 777.9,664.6 771.6,675.5 762.3,686.4 752.9,697.3 743.6,709.8 737.3,722.3 731.1,734.7 724.8,747.2 723.3,760.0"/>
<polyline points="800.0,667.7 790.3,672.4 784.1,680.2 779.4,691.1 768.5,703.6 759.1,712.9 749.8,725.4 743.6,739.4 738.9,760.0"/>
<polyline points="800.0,706.7 790.3,716.0 784.1,725.4 777.9,734.7 768.5,744.1 762.3,753.5 759.1,760.0"/>
<polyline points="756.0,610.0 762.3,616.2 771.6,619.4 782.5,616.2 790.3,610.0"/>
</g>
<g clip-path="url(#ct8)">
<polyline points="529.9,700.0 520.9,709.0 514.9,716.5 505.9,725.5 499.9,728.5 495.4,733.0 489.4,739.0 481.9,743.5 475.9,750.9 466.9,755.4 459.5,758.4 452.0,762.9 440.0,767.4 428.0,774.9 422.0,780.9 420.5,789.9 423.5,798.9 422.0,807.9 419.0,811.6"/>
<polyline points="537.4,700.0 529.9,707.5 523.9,718.0 516.4,727.0 510.4,733.0 505.9,739.0 499.9,745.0 493.9,750.9 489.4,759.9 486.4,764.4 480.4,767.4 472.9,765.9 462.4,767.4 452.0,770.4 441.5,774.9 432.5,782.4 428.0,789.9 426.5,798.9 428.0,807.9 425.0,813.9"/>
<polyline points="544.9,700.0 537.4,709.0 529.9,719.5 523.9,728.5 517.9,739.0 511.9,749.5 505.9,756.9 499.9,762.9 493.9,768.9 487.9,773.4 480.4,777.9 472.9,776.4 460.9,776.4 450.5,779.4 440.0,785.4 435.5,795.9 434.0,804.9 434.0,815.4"/>
<polyline points="550.9,703.0 541.9,715.0 534.4,725.5 528.4,736.0 523.9,745.0 519.4,753.9 514.9,761.4 510.4,768.9 502.9,774.9 493.9,780.9 484.9,785.4 474.4,786.9 462.4,786.9 452.0,791.4 444.5,798.9 441.5,807.9 441.5,815.4"/>
<polyline points="555.4,709.0 546.4,719.5 538.9,730.0 534.4,739.0 529.9,748.0 525.4,756.9 520.9,764.4 516.4,771.9 510.4,777.9 502.9,783.9 493.9,789.9 483.4,792.9 471.4,795.9 460.9,798.9 453.5,804.9 450.5,813.9"/>
<polyline points="556.9,718.0 547.9,727.0 541.9,736.0 537.4,745.0 532.9,753.9 528.4,762.9 523.9,771.9 519.4,779.4 513.4,783.9 505.9,788.4 496.9,792.9 487.9,797.4 477.4,801.9 466.9,804.9 459.5,809.4 456.5,815.4"/>
<polyline points="558.4,724.0 550.1,732.2 544.1,740.5 539.6,749.5 535.1,758.4 530.6,767.4 526.1,775.7 521.6,782.4 514.9,786.9 507.4,791.4 498.4,795.9 489.4,800.4 480.4,804.9 471.4,807.9 463.9,811.6 460.9,815.4"/>
<polyline points="560.0,730.0 552.4,737.5 546.4,745.0 541.9,753.9 537.4,762.9 532.9,771.9 528.4,779.4 523.9,785.4 516.4,789.9 508.9,794.4 499.9,798.9 490.9,803.4 483.4,807.9 475.9,811.6 468.4,815.4"/>
<polyline points="560.0,739.0 553.9,745.0 548.6,750.9 544.1,759.9 539.6,768.9 535.1,776.4 529.9,783.9 525.4,788.4 517.9,792.9 510.4,797.4 501.4,801.9 493.9,806.4 486.4,810.9 480.4,815.4"/>
<polyline points="529.9,773.4 535.9,771.9 541.1,776.4 541.9,782.4 537.4,786.2 531.4,783.9 529.1,777.9 529.9,773.4"/>
<polyline points="532.1,778.7 534.4,777.9 535.9,780.2 534.1,782.1 532.1,780.9 532.1,778.7"/>
<polyline points="544.9,740.5 547.9,752.4 550.9,764.4 552.4,774.9 550.9,783.9 549.4,789.9 553.9,795.9 560.0,797.4"/>
<polyline points="490.9,792.9 499.9,791.4 508.9,795.9 513.4,804.9 511.9,810.9 502.9,810.9 493.9,807.9 489.4,801.9 490.9,792.9"/>
<polyline points="529.9,804.9 538.9,800.4 550.9,798.9 560.0,801.9"/>
<polyline points="529.9,807.9 537.4,813.9 547.9,813.9 560.0,810.9"/>
</g>
<g clip-path="url(#ct9)">
<polyline points="589.5,733.0 599.9,740.5 610.4,745.0 623.9,749.5 634.4,753.9 644.9,759.9 653.9,765.9 664.4,768.9 671.9,765.9 674.9,756.9 683.9,748.0 690.0,743.5"/>
<polyline points="592.4,730.0 596.9,739.0 607.4,743.5 620.9,748.0 632.9,752.4 643.4,758.4 650.9,765.9 653.9,777.9 650.9,789.9 647.9,801.9 647.9,812.4"/>
<polyline points="586.5,739.0 592.4,746.5 602.9,749.5 614.9,753.9 626.9,758.4 635.9,764.4 644.9,770.4 649.4,780.9 646.4,792.9 644.9,804.9 644.9,812.4"/>
<polyline points="585.0,742.0 588.0,752.4 596.9,756.9 608.9,761.4 620.9,765.9 629.9,770.4 637.4,776.4 641.9,783.9 640.4,795.9 638.9,804.9 638.9,812.4"/>
<polyline points="583.5,749.5 585.0,759.9 592.4,762.9 604.4,765.9 614.9,770.4 623.9,774.9 631.4,780.9 632.9,789.9 632.9,801.9 631.4,812.4"/>
<polyline points="580.5,756.9 582.0,765.9 589.5,768.9 601.4,771.9 611.9,776.4 620.9,780.9 626.9,786.9 626.9,797.4 625.4,812.4"/>
<polyline points="576.0,762.9 579.0,774.9 586.5,776.4 596.9,779.4 607.4,783.9 614.9,789.9 616.4,801.9 614.9,812.4"/>
<polyline points="574.5,774.9 577.5,783.9 585.0,785.4 593.9,788.4 604.4,791.4 611.9,797.4 611.9,804.9 610.4,812.4"/>
<polyline points="573.0,783.9 574.5,792.9 582.0,795.9 590.9,797.4 599.9,800.4 605.9,806.4 607.4,812.4"/>
<polyline points="571.5,792.9 573.0,803.4 579.0,804.9 585.0,807.9 589.5,812.4"/>
<polyline points="562.5,700.0 565.5,706.0 570.0,712.0 576.0,716.5 585.0,722.5 593.9,724.0 602.9,719.5 608.9,715.7 617.9,714.2 623.9,713.5"/>
<polyline points="549.0,719.5 546.0,733.0 543.0,745.0 540.0,753.9"/>
<polyline points="553.5,721.0 556.5,730.0 559.5,739.0 562.5,749.5 565.5,759.9 565.5,771.9 564.0,783.9 565.5,795.9 564.0,810.9"/>
<polyline points="556.5,719.5 561.0,730.0 564.0,742.0 567.0,753.9 568.5,764.4 568.5,774.9 567.0,786.9 568.5,798.9 567.0,812.4"/>
<polyline points="559.5,718.0 565.5,728.5 568.5,740.5 570.0,752.4 571.5,762.9 571.5,774.9 570.0,786.9 571.5,798.9 570.0,812.4"/>
<polyline points="564.0,716.5 570.0,727.0 573.0,739.0 574.5,750.9 574.5,762.9 574.5,774.9 573.0,786.9 574.5,798.9 573.0,812.4"/>
<polyline points="540.0,749.5 546.0,756.9 550.5,762.9 556.5,767.4 562.5,770.4"/>
<polyline points="540.0,762.9 546.0,770.4 550.5,777.9 553.5,786.9 552.0,797.4 549.0,804.9 547.5,812.4"/>
<polyline points="540.0,777.9 544.5,783.9 546.0,792.9 544.5,801.9 543.0,812.4"/>
<polyline points="544.5,700.0 543.0,706.0 540.0,712.0"/>
<polyline points="552.0,700.0 549.0,707.5 544.5,715.0 540.0,721.0"/>
<polyline points="558.0,700.0 555.0,707.5 550.5,716.5 546.0,724.0 541.5,730.0 540.0,733.0"/>
<polyline points="565.5,700.0 562.5,706.0 558.0,712.0 552.0,718.0 546.0,727.0 541.5,736.0"/>
<polyline points="577.5,700.0 573.0,706.0 567.0,712.0 558.0,716.5 550.5,724.0 544.5,734.5 540.0,742.0"/>
<polyline points="583.5,703.0 577.5,709.0 570.0,715.0 561.0,721.0 553.5,730.0 547.5,740.5 543.0,749.5"/>
<polyline points="667.4,700.0 670.4,706.0 679.4,712.0 690.0,712.0"/>
<polyline points="646.4,733.0 656.9,727.0 665.9,719.5 674.9,721.0 674.9,728.5 670.4,733.0 670.4,742.0 665.9,745.0 656.9,743.5 647.9,737.5 646.4,733.0"/>
<polyline points="653.9,786.9 662.9,789.9 667.4,797.4 664.4,803.4 658.4,801.9 653.9,795.9 653.9,786.9"/>
<polyline points="690.0,748.0 683.9,759.9 679.4,774.9 674.9,789.9 671.9,804.9 670.4,812.4"/>
<polyline points="690.0,759.9 685.4,770.4 682.4,783.9 679.4,797.4 677.9,812.4"/>
<polyline points="690.0,770.4 687.6,780.9 685.4,792.9 683.9,804.9 683.1,812.4"/>
<polyline points="665.9,700.0 668.9,709.0 677.9,715.0 690.0,716.5"/>
<polyline points="599.9,700.0 602.9,706.0 611.9,709.0 620.9,707.5"/>
</g>
<g clip-path="url(#ct10)">
<polyline points="806.9,700.0 803.9,709.0 794.9,718.0 788.9,730.0 779.9,736.0 788.9,745.0 794.9,743.5 809.9,745.0 821.9,746.5 833.9,750.9 845.8,756.9 854.8,765.9 860.8,777.9 863.8,786.9 872.8,789.9 878.8,801.9 881.8,806.4"/>
<polyline points="779.9,700.0 773.9,712.0 767.9,724.0 755.9,736.0 738.0,759.9 740.9,774.9 761.9,780.9 779.9,780.9 791.9,771.9 809.9,771.9 821.9,777.9 826.4,786.9 818.9,795.9 806.9,800.4 794.9,795.9 779.9,803.4 764.9,800.4 749.9,794.4 732.0,791.4 727.5,795.9 729.0,804.9"/>
<polyline points="723.0,700.0 732.0,718.0 735.0,742.0 729.0,759.9 723.0,774.9 721.5,789.9"/>
<polyline points="749.9,700.0 743.9,718.0 735.0,736.0 726.0,753.9 723.0,768.9"/>
<polyline points="839.8,806.4 845.8,804.9 857.8,806.4 860.8,804.9"/>
</g>
<g clip-path="url(#ct11)">
<polyline points="531.7,508.1 538.3,503.1 548.3,498.1 559.9,493.2 571.6,488.2 583.2,483.2 593.2,476.5 599.9,468.2 604.0,456.6 608.2,443.3 614.8,433.3 624.8,426.6 638.1,422.5 651.4,422.5 663.1,425.8 669.7,431.6 671.4,439.9 669.7,449.9 665.6,458.2 663.1,467.4 659.7,472.4 652.2,477.4 647.3,483.7 643.6,492.3 644.8,501.1 647.3,509.8 649.8,518.6 652.2,527.3 659.7,528.6 669.7,529.8 677.2,532.2 684.7,534.7 690.0,535.1"/>
<polyline points="540.0,509.8 550.0,504.8 563.3,499.8 574.9,494.8 586.5,489.8 596.5,483.2 604.8,474.9 609.8,461.6 613.2,448.3 619.8,438.3 629.8,431.6 643.1,428.3 656.4,430.0 664.7,434.9 666.4,443.3 661.4,451.6 653.1,458.2 644.8,463.2 638.1,466.5 631.5,471.5 626.5,479.9 624.8,489.8 623.1,498.1 618.1,504.8 614.8,513.1 616.5,526.4 623.1,536.4 633.1,543.1 646.4,548.0 659.7,551.4 673.0,554.7 690.0,558.0"/>
<polyline points="535.8,509.0 543.3,504.4 551.2,500.8 559.3,497.5 567.3,494.0 575.4,490.6 583.2,486.8 590.7,482.4 597.4,476.8 602.1,469.7 605.7,461.9 608.2,453.5 611.9,445.7 616.6,438.7 622.9,433.1 630.5,429.4 638.6,427.6 647.0,427.5 654.1,430.0 657.9,434.3 659.2,439.1 659.0,443.8 657.2,449.5 653.3,455.8"/>
<polyline points="608.2,476.5 611.5,464.9 616.5,454.9 623.1,446.6 633.1,439.9 646.4,436.6 659.7,438.3 663.1,444.9 658.1,453.2 646.4,459.9 636.4,464.9 628.1,468.2 621.5,473.2 614.8,479.9 609.8,481.5 608.2,476.5"/>
<polyline points="623.1,449.9 629.8,443.3 639.8,439.9 649.8,439.1 658.1,441.6 659.7,446.6 653.1,451.6 643.1,454.9 633.1,458.2 626.5,461.6 623.1,458.2 623.1,449.9"/>
<polyline points="628.1,448.3 634.8,444.9 644.8,443.3 653.1,444.9 649.8,449.9 639.8,452.4 631.5,454.9 628.1,453.2 628.1,448.3"/>
<polyline points="577.4,526.4 579.9,524.8 582.9,526.4 582.4,529.8 579.6,531.1 577.4,528.9 577.4,526.4"/>
<polyline points="574.1,526.4 578.2,521.4 584.9,522.3 587.4,528.1 584.9,533.1 579.1,534.4 574.9,531.4 574.1,526.4"/>
<polyline points="569.9,524.8 576.6,517.3 586.5,516.4 591.5,523.1 591.5,533.1 586.5,538.9 578.2,540.6 571.6,536.4 569.1,529.8 569.9,524.8"/>
<polyline points="564.9,523.1 573.2,513.1 586.5,510.6 595.7,516.4 598.2,526.4 595.7,538.1 588.2,544.7 576.6,546.4 568.3,541.4 564.1,533.1 564.9,523.1"/>
<polyline points="559.9,521.4 569.9,508.1 584.9,504.0 596.5,503.1 601.5,498.1 603.2,509.8 604.8,523.1 603.2,536.4 598.2,548.0 586.5,553.0 573.2,553.0 563.3,546.4 558.3,534.7 559.9,521.4"/>
<polyline points="554.9,519.8 564.9,503.1 579.9,498.1 593.2,494.8 599.9,489.8 608.2,488.2 609.8,503.1 611.5,519.8 609.8,536.4 606.5,551.4 603.2,563.0 601.5,570.0"/>
<polyline points="551.6,518.1 559.9,503.1 574.9,496.5 589.9,491.5 599.9,484.8 608.2,479.9 613.2,483.2 616.5,496.5 615.7,509.8 614.0,526.4 611.5,543.1 609.8,556.4 608.2,570.0"/>
<polyline points="532.5,506.5 533.3,516.4 536.7,526.4 540.0,536.4 541.6,548.0 543.3,559.7 545.0,570.0"/>
<polyline points="540.0,509.8 540.0,519.8 543.3,529.8 546.6,541.4 548.3,553.0 550.0,570.0"/>
<polyline points="546.6,516.4 548.3,526.4 551.6,538.1 554.9,549.7 556.6,559.7 558.3,570.0"/>
<polyline points="553.3,523.1 554.9,536.4 559.9,548.0 563.3,559.7 564.9,570.0"/>
<polyline points="661.4,464.9 659.7,476.5 661.4,488.2 664.7,499.8 669.7,509.8 676.4,516.4 684.7,519.8 690.0,521.4"/>
<polyline points="676.4,434.9 679.7,451.6 684.7,464.9 690.0,473.2"/>
</g>
<g clip-path="url(#ct12)">
<polyline points="613.0,640.0 595.8,660.0 580.0,680.0 569.8,694.9 559.1,709.9 543.9,729.9 529.9,749.9 514.9,769.9 499.9,789.9 485.9,802.8 469.9,814.8"/>
<polyline points="630.0,640.0 612.8,660.0 597.0,680.0 586.8,694.9 577.0,709.9 563.8,729.9 549.9,749.9 534.9,769.9 519.9,789.9 509.9,802.8 499.9,814.8"/>
<polyline points="615.1,640.0 611.3,644.4 607.6,648.8 603.8,653.2 600.0,657.6 596.3,662.0 592.7,666.6 589.1,671.1 585.6,675.6 582.0,680.2 578.7,685.0 575.5,689.8 572.2,694.6 568.9,699.3 565.5,704.0 562.1,708.7 558.7,713.4 555.2,718.0 551.8,722.6 548.3,727.3 544.9,732.0 541.6,736.7 538.3,741.5 535.0,746.2 531.6,750.9 528.1,755.5 524.7,760.2 521.2,764.8 517.7,769.4 514.2,774.1 510.8,778.7 507.3,783.3 503.8,788.0 499.9,792.2 495.7,796.2 491.5,800.2 487.2,804.0 482.7,807.6 478.2,811.2 473.7,814.8"/>
<polyline points="617.2,640.0 613.5,644.4 609.7,648.7 606.0,653.1 602.2,657.5 598.5,661.9 595.0,666.4 591.4,670.9 587.8,675.5 584.3,680.0 581.0,684.8 577.8,689.5 574.5,694.3 571.2,699.0 567.9,703.7 564.6,708.4 561.2,713.1 557.8,717.7 554.4,722.4 551.0,727.0 547.6,731.7 544.3,736.4 541.0,741.1 537.7,745.8 534.4,750.5 530.9,755.2 527.5,759.8 524.0,764.4 520.6,769.0 517.1,773.6 513.6,778.2 510.2,782.8 506.7,787.4 502.9,791.7 498.8,795.7 494.8,799.8 490.6,803.7 486.2,807.4 481.8,811.1 477.4,814.8"/>
<polyline points="619.4,640.0 615.6,644.3 611.9,648.7 608.2,653.0 604.4,657.4 600.7,661.8 597.2,666.3 593.6,670.8 590.1,675.3 586.6,679.8 583.3,684.5 580.1,689.3 576.8,694.0 573.6,698.7 570.3,703.4 567.0,708.1 563.7,712.8 560.3,717.4 557.0,722.1 553.6,726.7 550.3,731.4 547.0,736.1 543.7,740.8 540.5,745.5 537.1,750.2 533.7,754.8 530.3,759.4 526.8,763.9 523.4,768.5 520.0,773.1 516.5,777.7 513.1,782.3 509.6,786.9 505.9,791.1 501.9,795.3 498.0,799.4 493.9,803.4 489.7,807.2 485.4,811.0 481.2,814.8"/>
<polyline points="621.5,640.0 617.8,644.3 614.0,648.7 610.3,653.0 606.6,657.3 603.0,661.7 599.4,666.2 595.9,670.6 592.3,675.1 588.8,679.6 585.6,684.3 582.4,689.0 579.2,693.7 575.9,698.4 572.7,703.1 569.5,707.8 566.2,712.5 562.9,717.1 559.6,721.8 556.3,726.4 553.0,731.1 549.7,735.8 546.5,740.5 543.2,745.1 539.9,749.8 536.5,754.4 533.1,758.9 529.7,763.5 526.2,768.1 522.8,772.6 519.4,777.2 516.0,781.8 512.5,786.3 508.8,790.6 505.0,794.8 501.2,799.0 497.3,803.1 493.2,807.0 489.0,810.9 484.9,814.8"/>
<polyline points="623.6,640.0 619.9,644.3 616.2,648.6 612.5,652.9 608.8,657.2 605.2,661.6 601.6,666.0 598.1,670.5 594.6,674.9 591.1,679.4 587.9,684.1 584.7,688.8 581.5,693.4 578.3,698.1 575.1,702.8 571.9,707.5 568.7,712.2 565.4,716.8 562.2,721.5 558.9,726.1 555.7,730.8 552.5,735.5 549.2,740.1 545.9,744.8 542.7,749.4 539.3,754.0 535.9,758.5 532.5,763.1 529.1,767.6 525.7,772.1 522.3,776.7 518.9,781.2 515.5,785.8 511.8,790.1 508.1,794.4 504.4,798.6 500.6,802.8 496.6,806.8 492.7,810.8 488.7,814.8"/>
<polyline points="625.7,640.0 622.1,644.3 618.4,648.6 614.7,652.8 611.0,657.1 607.4,661.5 603.9,665.9 600.4,670.3 596.9,674.8 593.4,679.2 590.1,683.8 587.0,688.5 583.8,693.2 580.6,697.8 577.5,702.5 574.3,707.2 571.1,711.9 568.0,716.5 564.8,721.2 561.6,725.9 558.4,730.5 555.2,735.2 551.9,739.8 548.7,744.4 545.4,749.0 542.1,753.6 538.7,758.1 535.3,762.6 531.9,767.1 528.5,771.7 525.1,776.2 521.8,780.7 518.4,785.2 514.8,789.6 511.2,793.9 507.6,798.3 503.9,802.5 500.1,806.6 496.3,810.7 492.4,814.8"/>
<polyline points="627.9,640.0 624.2,644.3 620.5,648.5 616.9,652.8 613.2,657.0 609.6,661.4 606.1,665.8 602.6,670.2 599.1,674.6 595.7,679.0 592.4,683.6 589.3,688.2 586.1,692.9 583.0,697.5 579.9,702.2 576.8,706.9 573.6,711.6 570.5,716.3 567.4,720.9 564.2,725.6 561.1,730.3 557.9,734.9 554.7,739.5 551.4,744.1 548.2,748.7 544.9,753.2 541.5,757.7 538.1,762.2 534.8,766.7 531.4,771.2 528.0,775.7 524.6,780.2 521.3,784.7 517.8,789.1 514.3,793.5 510.8,797.9 507.3,802.2 503.6,806.4 499.9,810.6 496.2,814.8"/>
<polyline points="584.2,640.0 582.0,645.3 579.8,650.5 577.6,655.8 575.5,661.1 573.4,666.4 571.4,671.7 569.2,677.0 567.1,682.3 564.8,687.6 562.3,692.9 559.3,697.9 555.8,702.5 552.2,707.1 548.6,711.8 545.1,716.4 541.5,721.0 537.8,725.6 534.0,729.9 530.0,734.2 526.0,738.5 521.9,742.5 517.8,746.6 513.7,750.7 509.5,754.8 505.3,758.8 500.9,762.5 496.5,766.3 491.9,769.7 487.3,773.0 482.6,776.3 478.0,779.6 473.3,783.0 468.9,786.8 464.5,790.5 461.6,795.5 458.9,800.4 456.7,805.4 454.7,810.5 452.6,815.5"/>
<polyline points="598.6,640.0 595.6,644.8 592.6,649.7 589.6,654.5 586.7,659.4 583.8,664.3 580.9,669.2 578.1,674.1 575.2,679.1 572.3,684.0 569.4,689.0 566.2,693.9 562.8,698.7 559.4,703.4 555.9,708.0 552.4,712.7 548.8,717.3 545.3,721.9 541.6,726.4 537.8,730.9 534.1,735.4 530.4,739.8 526.7,744.2 522.9,748.6 519.2,753.0 515.3,757.4 511.4,761.6 507.4,765.8 503.4,769.8 499.3,773.8 495.3,777.8 491.2,781.7 487.1,785.7 482.9,789.7 478.5,793.6 475.0,798.0 471.4,802.4 468.0,806.6 464.6,810.9 461.3,815.2"/>
<polyline points="545.9,640.0 541.9,656.0 533.9,672.0 529.9,686.0 521.9,699.9 513.9,707.9 503.9,719.9 495.9,729.9 485.9,739.9 475.9,745.9 461.9,753.9 450.0,759.9 438.0,767.9 428.0,777.9 422.0,783.9 424.0,795.8 422.0,807.8 420.0,815.8"/>
<polyline points="559.9,640.0 553.9,656.0 549.9,664.0 541.9,680.0 537.9,691.9 529.9,703.9 521.9,715.9 511.9,725.9 501.9,733.9 489.9,743.9 477.9,751.9 465.9,757.9 454.0,763.9 444.0,771.9 434.0,779.9 430.0,791.8 430.0,803.8 428.0,815.8"/>
<polyline points="563.8,648.0 557.9,664.0 555.9,680.0 549.9,691.9 541.9,699.9 533.9,711.9 525.9,721.9 517.9,731.9 505.9,739.9 493.9,749.9 481.9,757.9 469.9,763.9 458.0,771.9 448.0,779.9 440.0,791.8 438.0,803.8 436.0,815.8"/>
<polyline points="569.8,640.0 565.8,656.0 561.8,674.0 557.9,690.0 553.9,699.9 545.9,709.9 537.9,719.9 529.9,729.9 519.9,739.9 507.9,749.9 495.9,759.9 483.9,767.9 471.9,773.9 460.0,779.9 450.0,787.9 446.0,799.8 444.0,815.8"/>
<polyline points="527.9,777.9 531.9,772.9 538.9,773.9 541.9,779.9 539.9,785.9 533.9,786.9 528.9,783.9 527.9,777.9"/>
<polyline points="532.3,779.5 534.3,778.3 535.9,780.3 533.9,781.9 532.3,779.5"/>
<polyline points="523.9,775.9 529.9,767.9 541.9,767.9 549.9,775.9 549.9,785.9 541.9,791.8 529.9,791.8 523.9,785.9 523.9,775.9"/>
<polyline points="565.8,729.9 567.8,749.9 569.8,769.9 567.8,789.9 565.8,809.8"/>
<polyline points="573.8,725.9 575.8,745.9 575.8,765.9 573.8,785.9 571.8,809.8"/>
<polyline points="581.8,727.9 583.8,747.9 581.8,767.9 579.8,787.9 577.8,809.8"/>
<polyline points="589.8,727.9 591.8,739.9 587.8,759.9 585.8,779.9 583.8,799.8 581.8,811.8"/>
<polyline points="601.8,725.9 599.8,743.9 595.8,763.9 593.8,783.9 591.8,803.8"/>
<polyline points="581.8,759.9 593.8,755.9 610.0,751.9"/>
<polyline points="585.8,767.9 599.8,763.9 610.0,761.9"/>
<polyline points="489.9,793.8 501.9,791.8 509.9,799.8 505.9,807.8 493.9,805.8 487.9,799.8 489.9,793.8"/>
<polyline points="529.9,803.8 539.9,799.8 549.9,805.8 545.9,811.8 533.9,811.8 529.9,803.8"/>
<polyline points="513.9,791.8 521.9,795.8 529.9,793.8 537.9,797.8"/>
</g>
<g clip-path="url(#ct13)">
<polyline points="528.7,660.0 529.9,666.2 528.7,673.7 529.9,678.7 528.7,684.9 524.9,691.2 520.0,697.4 515.0,702.4 510.0,707.4 503.7,713.6 500.0,717.4"/>
<polyline points="549.9,660.0 551.1,666.2 549.9,672.5 544.9,678.7 541.2,684.9 543.7,691.2 541.2,693.7 533.7,697.4 528.7,703.7 524.9,709.9 518.7,714.9 512.5,719.9 506.2,726.1 500.0,731.1"/>
<polyline points="562.4,660.0 561.1,667.5 559.9,675.0 556.1,682.5 552.4,691.2 549.9,697.4 543.7,701.2 537.4,707.4 532.4,713.6 527.4,719.9 521.2,724.9 515.0,731.1 508.7,737.3 502.5,744.8 500.0,747.3"/>
<polyline points="572.3,660.0 569.9,670.0 566.1,680.0 563.6,688.7 559.9,697.4 554.9,703.7 548.6,709.9 542.4,716.1 536.2,722.4 529.9,729.9 524.9,737.3 518.7,744.8 512.5,752.3 506.2,759.8 500.0,767.3"/>
<polyline points="584.8,660.0 579.8,670.0 574.8,680.0 569.9,689.9 564.9,699.9 559.9,707.4 552.4,714.9 547.4,719.9 542.4,727.4 537.4,736.1 532.4,744.8 527.4,754.8 522.5,764.8 518.7,774.8 517.5,780.0"/>
<polyline points="591.1,660.0 586.1,670.0 581.1,680.0 574.8,689.9 569.9,699.9 564.9,707.4 557.4,714.9 549.9,721.1 544.9,729.9 539.9,738.6 534.9,747.3 529.9,757.3 524.9,767.3 521.2,777.3 520.6,780.0"/>
<polyline points="597.3,660.0 591.1,670.0 586.1,680.0 579.8,689.9 573.6,699.9 567.4,708.6 559.9,716.1 552.4,722.4 547.4,732.3 542.4,741.1 537.4,749.8 532.4,759.8 527.4,769.8 523.7,780.0"/>
<polyline points="602.3,660.0 596.0,670.0 589.8,680.0 583.6,689.9 577.3,699.9 569.9,709.9 562.4,717.4 554.9,723.6 549.9,734.8 544.9,743.6 539.9,752.3 534.9,762.3 529.9,772.3 526.8,780.0"/>
<polyline points="607.3,660.0 601.0,670.0 594.8,680.0 587.3,691.2 581.1,701.2 573.6,709.9 564.9,718.6 557.4,724.9 552.4,736.1 547.4,746.1 542.4,754.8 537.4,764.8 532.4,774.8 530.6,780.0"/>
<polyline points="612.3,660.0 606.0,670.0 599.8,680.0 592.3,691.2 584.8,701.2 576.1,711.1 567.4,719.9 559.9,727.4 554.9,738.6 549.9,748.6 544.9,757.3 539.9,767.3 536.2,777.3 535.6,780.0"/>
<polyline points="620.0,667.5 612.3,675.0 606.0,684.9 599.8,694.9 592.3,703.7 584.8,712.4 574.8,719.9 567.4,724.9 562.4,734.8 558.6,744.8 554.9,753.6 552.4,763.5 549.9,772.3 548.6,780.0"/>
<polyline points="620.0,680.0 609.8,687.4 603.5,697.4 599.8,707.4 603.5,716.1 612.3,718.6 620.0,717.4"/>
<polyline points="564.9,727.4 574.8,729.9 587.3,727.4 599.8,724.9 612.3,723.6 620.0,722.4"/>
<polyline points="564.9,737.3 569.9,732.3 577.3,729.9 584.8,732.3 592.3,734.8 599.8,739.8 609.8,744.8 620.0,747.3"/>
<polyline points="564.9,759.8 567.4,752.3 572.3,747.3 579.8,744.8 587.3,742.3 594.8,747.3 602.3,753.6 612.3,758.5 620.0,759.8"/>
<polyline points="569.9,772.3 572.3,764.8 577.3,759.8 587.3,758.5 594.8,763.5 604.8,768.5 614.8,772.3 620.0,773.5"/>
<polyline points="559.9,780.0 562.4,772.3 564.9,766.0 566.1,759.8"/>
<polyline points="587.3,672.5 589.8,676.2 594.8,677.5 592.3,681.2 587.3,681.2 586.1,676.2 587.3,672.5"/>
</g>
<g clip-path="url(#ct14)">
<polyline points="757.2,606.5 763.4,604.9 769.6,608.1 771.2,614.3 766.5,618.2 760.3,615.9 757.2,611.2 757.2,606.5"/>
<polyline points="752.5,604.9 761.8,600.3 771.2,603.4 775.9,611.2 774.3,619.0 766.5,622.9 757.2,620.5 752.5,614.3 752.5,604.9"/>
<polyline points="747.8,603.4 755.6,595.6 766.5,594.0 775.9,598.7 780.5,606.5 782.1,615.9 777.4,623.7 768.1,626.8 757.2,626.8 749.4,622.1 746.2,612.7 747.8,603.4"/>
<polyline points="743.1,600.3 749.4,590.9 761.8,587.8 774.3,589.4 785.2,595.6 789.9,604.9 791.5,615.9 786.8,625.2 777.4,629.9 764.9,631.5 752.5,629.9 743.1,626.8 740.0,623.7"/>
<polyline points="740.0,592.5 746.2,584.7 758.7,581.6 774.3,583.1 786.8,587.8 796.1,597.2 799.3,606.5 799.3,617.4 794.6,626.8 786.8,633.0 774.3,636.1 761.8,637.7 749.4,637.7 740.0,636.1"/>
<polyline points="749.4,580.0 763.4,578.4 789.9,580.0 802.4,589.4 807.0,600.3 807.0,614.3 803.9,625.2 797.7,633.0 786.8,639.3 774.3,643.9 758.7,645.5 746.2,647.0 740.0,648.6"/>
<polyline points="818.0,592.5 814.8,604.9 811.7,617.4 805.5,629.9 797.7,639.3 789.9,648.6 783.7,658.0 779.0,667.3 771.2,676.7 763.4,686.0 755.6,695.4 749.4,704.7 743.1,714.1 740.0,720.3"/>
<polyline points="828.9,589.4 827.3,601.8 824.2,614.3 818.0,626.8 811.7,639.3 805.5,648.6 799.3,658.0 793.0,667.3 786.8,676.7 780.5,687.6 774.3,696.9 768.1,707.9 761.8,717.2 755.6,726.6 754.0,730.0"/>
<polyline points="839.8,592.5 838.2,604.9 835.1,617.4 828.9,629.9 822.6,642.4 814.8,653.3 808.6,661.1 802.4,670.4 796.1,681.4 789.9,692.3 783.7,704.7 777.4,715.7 771.2,726.6 769.6,730.0"/>
<polyline points="858.5,592.5 855.4,603.4 858.5,615.9 856.9,629.9 849.1,642.4 841.4,654.8 833.6,664.2 825.8,673.6 818.0,686.0 811.7,696.9 805.5,707.9 799.3,720.3 794.6,730.0"/>
<polyline points="775.9,628.3 768.1,639.3 760.3,650.2 754.0,661.1 747.8,673.6 743.1,682.9 740.0,689.1"/>
<polyline points="771.2,629.9 763.4,640.8 755.6,651.7 749.4,662.6 744.7,673.6 740.0,679.8"/>
<polyline points="766.5,631.5 758.7,642.4 750.9,653.3 746.2,662.6 741.6,670.4 740.0,673.6"/>
<polyline points="780.5,631.5 772.7,642.4 764.9,654.8 758.7,665.8 752.5,676.7 746.2,687.6 740.0,698.5"/>
<polyline points="786.8,634.6 779.0,645.5 771.2,658.0 764.9,670.4 758.7,681.4 752.5,692.3 746.2,703.2 740.0,711.0"/>
<polyline points="824.2,580.0 827.3,586.2 830.4,589.4"/>
<polyline points="849.1,580.0 852.3,589.4 858.5,592.5"/>
</g></g><g fill="none" stroke="#222" stroke-opacity="0.85" stroke-width="0.7"><ellipse cx="623.7" cy="388.1" rx="1.3" ry="2.0"/><ellipse cx="629.2" cy="388.1" rx="1.4" ry="1.5"/><ellipse cx="655.5" cy="380.0" rx="0.6" ry="0.6"/><ellipse cx="638.7" cy="393.7" rx="0.6" ry="0.6"/><ellipse cx="639.3" cy="398.0" rx="0.9" ry="0.9"/><ellipse cx="609.5" cy="372.0" rx="2.5" ry="1.2"/><ellipse cx="640.0" cy="366.5" rx="1.0" ry="1.0"/><ellipse cx="646.8" cy="365.6" rx="1.2" ry="1.2"/><ellipse cx="694.8" cy="402.4" rx="2.5" ry="1.5"/><ellipse cx="711.0" cy="433.6" rx="1.2" ry="1.2"/><ellipse cx="684.8" cy="413.6" rx="0.5" ry="0.5"/><ellipse cx="708.2" cy="383.6" rx="1.5" ry="2.2"/><ellipse cx="704.5" cy="391.3" rx="4.0" ry="2.5"/><ellipse cx="714.5" cy="388.5" rx="2.0" ry="3.5"/><ellipse cx="712.4" cy="435.3" rx="1.5" ry="1.5"/><ellipse cx="733.4" cy="447.9" rx="1.0" ry="2.5"/><ellipse cx="773.2" cy="388.5" rx="1.0" ry="1.0"/><ellipse cx="777.4" cy="390.6" rx="1.5" ry="2.0"/><ellipse cx="776.7" cy="445.1" rx="1.5" ry="2.0"/><ellipse cx="773.2" cy="456.3" rx="1.5" ry="2.5"/><ellipse cx="779.5" cy="457.0" rx="1.5" ry="2.0"/><ellipse cx="787.9" cy="450.7" rx="1.5" ry="1.5"/><ellipse cx="797.0" cy="444.0" rx="0.8" ry="0.8"/><ellipse cx="752.2" cy="464.0" rx="0.5" ry="0.5"/><ellipse cx="771.8" cy="464.7" rx="0.5" ry="0.5"/><ellipse cx="804.0" cy="465.4" rx="1.2" ry="2.5"/><ellipse cx="810.3" cy="463.3" rx="1.2" ry="2.0"/><ellipse cx="956.0" cy="191.5" rx="0.8" ry="0.8"/><ellipse cx="955.0" cy="230.8" rx="1.0" ry="1.0"/><ellipse cx="957.6" cy="243.0" rx="1.0" ry="1.3"/><ellipse cx="944.0" cy="264.2" rx="2.2" ry="2.5"/><ellipse cx="949.0" cy="258.6" rx="1.0" ry="1.0"/><ellipse cx="943.5" cy="274.8" rx="1.6" ry="2.4"/><ellipse cx="978.5" cy="181.5" rx="0.6" ry="0.6"/><ellipse cx="955.4" cy="379.0" rx="0.6" ry="0.6"/><ellipse cx="973.2" cy="395.9" rx="0.6" ry="0.6"/><ellipse cx="930.0" cy="388.0" rx="0.5" ry="0.5"/><ellipse cx="900.0" cy="400.0" rx="0.5" ry="0.5"/><ellipse cx="860.0" cy="446.0" rx="0.5" ry="0.5"/><ellipse cx="742.0" cy="458.0" rx="0.8" ry="1.6"/><ellipse cx="766.0" cy="410.0" rx="0.5" ry="0.5"/><ellipse cx="740.0" cy="470.0" rx="0.5" ry="0.5"/></g>
<polyline points="929.5,145.0 938.2,193.0 935.7,249.0 932.3,299.0 897.7,381.8 866.1,417.0 857.1,421.7 830.0,423.0 819.1,423.2 814.6,420.9 808.3,416.0 785.9,394.4 780.9,398.9 817.8,436.5 801.9,454.6 790.4,446.1 794.0,439.8 768.8,420.0 764.3,422.3 749.4,410.1 752.6,405.2 787.7,437.6 776.9,450.1 772.4,449.7 765.6,457.3 711.7,413.6 730.6,396.9 736.2,402.4 739.7,402.4 737.6,397.6 739.0,394.0 730.6,386.4 718.7,383.6 722.9,390.6 705.4,405.9 692.1,391.7 710.7,376.3 715.9,377.7 719.0,375.2 719.4,369.6 742.9,359.1 718.0,367.5 694.9,373.1 690.0,375.2 693.5,375.0 687.1,380.6 681.5,379.0 673.5,375.8 671.1,370.2 666.3,367.0 659.1,365.4 650.3,367.0 629.5,370.2 616.7,373.4 612.7,373.9 610.3,377.4 609.5,387.0 608.7,393.4 610.0,397.4 607.9,400.6 603.9,400.1 598.3,403.8 592.7,408.5 588.0,412.5 581.6,417.3 576.8,421.3 572.0,430.1 568.0,436.5 565.6,441.3 564.8,450.1 560.8,452.5 552.8,455.7 546.4,460.5 540.0,465.3 534.7,469.4 532.6,473.1 533.7,476.7 535.7,478.8 531.1,481.4 533.7,484.0 537.8,488.7 535.7,492.3 529.5,494.9 524.8,497.5 524.8,503.2 527.4,511.5 534.7,521.9 535.7,528.2 535.7,538.6 534.7,540.0 529.5,548.8 527.4,551.4 518.1,553.0 514.9,556.6 513.9,561.8 514.4,567.0 519.1,571.2 528.5,574.3 534.7,577.4 537.8,583.7 538.3,593.0 536.8,600.3 531.6,604.4 527.4,607.6 526.9,612.8 528.5,620.0 534.7,626.3 536.3,630.4 533.6,633.1 528.4,634.7 520.0,634.7 520.6,640.4 520.6,645.6 518.5,649.8 518.0,653.4 522.1,655.5 522.1,659.1 521.6,662.2 523.2,666.4 521.1,669.5 515.9,675.7 515.4,682.0 516.4,688.2 516.9,693.4 513.8,698.6 502.4,712.1 492.0,721.5 490.6,725.0 429.3,769.7 418.4,783.7 418.4,797.8 418.9,806.1 413.2,825.0" fill="none" stroke="#000" stroke-width="2" stroke-linejoin="round"/><line x1="718.5" y1="368.5" x2="742.9" y2="359.3" stroke="#000" stroke-width="3.2" stroke-linecap="round"/>
<g stroke="#fff" stroke-opacity="0.5" stroke-width="0.8" fill="none"><line x1="62.5" y1="207.7" x2="992.5" y2="188.8"/><line x1="62.5" y1="295.5" x2="992.5" y2="276.2"/><line x1="62.5" y1="383.3" x2="992.5" y2="364.4"/><line x1="62.5" y1="471.1" x2="992.5" y2="452.4"/><line x1="62.5" y1="558.9" x2="992.5" y2="540.4"/><line x1="62.5" y1="646.7" x2="992.5" y2="628.4"/><line x1="62.5" y1="734.5" x2="992.5" y2="716.4"/><line x1="62.5" y1="822.3" x2="992.5" y2="804.4"/><line x1="60.5" y1="145.5" x2="76.0" y2="824.5"/><line x1="244.5" y1="145.5" x2="259.8" y2="824.5"/><line x1="428.3" y1="145.5" x2="442.6" y2="824.5"/><line x1="612.1" y1="145.5" x2="625.9" y2="824.5"/><line x1="795.5" y1="145.5" x2="809.7" y2="824.5"/><line x1="979.2" y1="145.5" x2="990.0" y2="824.5"/></g>
<circle cx="581.6" cy="418.1" r="3.3" fill="#000" stroke="#fff" stroke-width="0.7"/>
<circle cx="626.3" cy="450.1" r="3.3" fill="#000" stroke="#fff" stroke-width="0.7"/>
<circle cx="577.4" cy="541.2" r="3.3" fill="#000" stroke="#fff" stroke-width="0.7"/>
<circle cx="524.3" cy="563.1" r="3.3" fill="#000" stroke="#fff" stroke-width="0.7"/>
<circle cx="643.5" cy="636.5" r="3.3" fill="#000" stroke="#fff" stroke-width="0.7"/>
<circle cx="665.5" cy="644.5" r="3.3" fill="#000" stroke="#fff" stroke-width="0.7"/>
<circle cx="806.4" cy="591.2" r="3.3" fill="#000" stroke="#fff" stroke-width="0.7"/>
<circle cx="681.4" cy="774.2" r="3.3" fill="#000" stroke="#fff" stroke-width="0.7"/>
<text x="588.1" y="418.0" textLength="83.29" lengthAdjust="spacingAndGlyphs" class="st">SHL: 215.9 m</text>
<text x="632.8" y="450.0" textLength="83.18" lengthAdjust="spacingAndGlyphs" class="st">SHT: 313.7 m</text>
<text x="583.7" y="541.0" textLength="82.25" lengthAdjust="spacingAndGlyphs" class="st">LHT: 276.0 m</text>
<text x="530.9" y="563.0" textLength="82.36" lengthAdjust="spacingAndGlyphs" class="st">LHL: 134.3 m</text>
<text x="650.3" y="636.0" textLength="84.02" lengthAdjust="spacingAndGlyphs" class="st">GUT: 256.1 m</text>
<text x="671.3" y="664.5" textLength="84.51" lengthAdjust="spacingAndGlyphs" class="st">TMT: 183.0 m</text>
<text x="812.5" y="591.0" textLength="89.01" lengthAdjust="spacingAndGlyphs" class="st">BTO: -182.4 m</text>
<text x="688.5" y="774.0" textLength="89.23" lengthAdjust="spacingAndGlyphs" class="st">OHT: -117.3 m</text>
</g>
<rect x="62.5" y="145.5" width="930.0" height="679.0" fill="none" stroke="#000" stroke-width="1"/>
<text x="55.2" y="211.8" class="tk" text-anchor="end" textLength="44.42" lengthAdjust="spacingAndGlyphs">33.86°S</text>
<text x="55.2" y="299.6" class="tk" text-anchor="end" textLength="44.42" lengthAdjust="spacingAndGlyphs">33.88°S</text>
<text x="55.2" y="387.4" class="tk" text-anchor="end" textLength="37.35" lengthAdjust="spacingAndGlyphs">33.9°S</text>
<text x="55.2" y="475.2" class="tk" text-anchor="end" textLength="44.42" lengthAdjust="spacingAndGlyphs">33.92°S</text>
<text x="55.2" y="563.0" class="tk" text-anchor="end" textLength="44.42" lengthAdjust="spacingAndGlyphs">33.94°S</text>
<text x="55.2" y="650.8" class="tk" text-anchor="end" textLength="44.42" lengthAdjust="spacingAndGlyphs">33.96°S</text>
<text x="55.2" y="738.6" class="tk" text-anchor="end" textLength="44.42" lengthAdjust="spacingAndGlyphs">33.98°S</text>
<text transform="translate(76.0,833.6) rotate(-90)" x="0" y="0" class="tk" text-anchor="end" dy="3.7" textLength="44.39" lengthAdjust="spacingAndGlyphs">18.25°E</text>
<text transform="translate(259.8,833.6) rotate(-90)" x="0" y="0" class="tk" text-anchor="end" dy="3.7" textLength="37.32" lengthAdjust="spacingAndGlyphs">18.3°E</text>
<text transform="translate(442.6,833.6) rotate(-90)" x="0" y="0" class="tk" text-anchor="end" dy="3.7" textLength="44.39" lengthAdjust="spacingAndGlyphs">18.35°E</text>
<text transform="translate(625.9,833.6) rotate(-90)" x="0" y="0" class="tk" text-anchor="end" dy="3.7" textLength="37.32" lengthAdjust="spacingAndGlyphs">18.4°E</text>
<text transform="translate(809.7,833.6) rotate(-90)" x="0" y="0" class="tk" text-anchor="end" dy="3.7" textLength="44.39" lengthAdjust="spacingAndGlyphs">18.45°E</text>
<rect x="155.40" y="879.6" width="34.41" height="29.4" fill="#0000E6" shape-rendering="crispEdges"/>
<rect x="189.21" y="879.6" width="34.41" height="29.4" fill="#0838E8" shape-rendering="crispEdges"/>
<rect x="223.03" y="879.6" width="34.41" height="29.4" fill="#047CE8" shape-rendering="crispEdges"/>
<rect x="256.84" y="879.6" width="34.41" height="29.4" fill="#00B8E8" shape-rendering="crispEdges"/>
<rect x="290.65" y="879.6" width="34.41" height="29.4" fill="#00DCDC" shape-rendering="crispEdges"/>
<rect x="324.47" y="879.6" width="34.41" height="29.4" fill="#00D4AA" shape-rendering="crispEdges"/>
<rect x="358.28" y="879.6" width="34.41" height="29.4" fill="#00C478" shape-rendering="crispEdges"/>
<rect x="392.10" y="879.6" width="34.41" height="29.4" fill="#00B240" shape-rendering="crispEdges"/>
<rect x="425.91" y="879.6" width="34.41" height="29.4" fill="#14A814" shape-rendering="crispEdges"/>
<rect x="459.72" y="879.6" width="34.41" height="29.4" fill="#48B804" shape-rendering="crispEdges"/>
<rect x="493.54" y="879.6" width="34.41" height="29.4" fill="#80CC08" shape-rendering="crispEdges"/>
<rect x="527.35" y="879.6" width="34.41" height="29.4" fill="#B8DC00" shape-rendering="crispEdges"/>
<rect x="561.16" y="879.6" width="34.41" height="29.4" fill="#DCE000" shape-rendering="crispEdges"/>
<rect x="594.98" y="879.6" width="34.41" height="29.4" fill="#ECD400" shape-rendering="crispEdges"/>
<rect x="628.79" y="879.6" width="34.41" height="29.4" fill="#E8C000" shape-rendering="crispEdges"/>
<rect x="662.60" y="879.6" width="34.41" height="29.4" fill="#E8A800" shape-rendering="crispEdges"/>
<rect x="696.42" y="879.6" width="34.41" height="29.4" fill="#E88C00" shape-rendering="crispEdges"/>
<rect x="730.23" y="879.6" width="34.41" height="29.4" fill="#EC7000" shape-rendering="crispEdges"/>
<rect x="764.05" y="879.6" width="34.41" height="29.4" fill="#E84400" shape-rendering="crispEdges"/>
<rect x="797.86" y="879.6" width="34.41" height="29.4" fill="#EC2000" shape-rendering="crispEdges"/>
<rect x="831.67" y="879.6" width="34.41" height="29.4" fill="#E00000" shape-rendering="crispEdges"/>
<rect x="865.49" y="879.6" width="34.41" height="29.4" fill="#C00020" shape-rendering="crispEdges"/>
<rect x="155.4" y="879.6" width="743.9" height="29.4" fill="none" stroke="#000" stroke-width="1"/>
<line x1="155.40" y1="909.0" x2="155.40" y2="913.9" stroke="#000" stroke-width="0.8"/>
<line x1="189.21" y1="909.0" x2="189.21" y2="911.8" stroke="#000" stroke-width="0.8"/>
<line x1="223.03" y1="909.0" x2="223.03" y2="913.9" stroke="#000" stroke-width="0.8"/>
<line x1="256.84" y1="909.0" x2="256.84" y2="911.8" stroke="#000" stroke-width="0.8"/>
<line x1="290.65" y1="909.0" x2="290.65" y2="913.9" stroke="#000" stroke-width="0.8"/>
<line x1="324.47" y1="909.0" x2="324.47" y2="911.8" stroke="#000" stroke-width="0.8"/>
<line x1="358.28" y1="909.0" x2="358.28" y2="913.9" stroke="#000" stroke-width="0.8"/>
<line x1="392.10" y1="909.0" x2="392.10" y2="911.8" stroke="#000" stroke-width="0.8"/>
<line x1="425.91" y1="909.0" x2="425.91" y2="913.9" stroke="#000" stroke-width="0.8"/>
<line x1="459.72" y1="909.0" x2="459.72" y2="911.8" stroke="#000" stroke-width="0.8"/>
<line x1="493.54" y1="909.0" x2="493.54" y2="913.9" stroke="#000" stroke-width="0.8"/>
<line x1="527.35" y1="909.0" x2="527.35" y2="911.8" stroke="#000" stroke-width="0.8"/>
<line x1="561.16" y1="909.0" x2="561.16" y2="913.9" stroke="#000" stroke-width="0.8"/>
<line x1="594.98" y1="909.0" x2="594.98" y2="911.8" stroke="#000" stroke-width="0.8"/>
<line x1="628.79" y1="909.0" x2="628.79" y2="913.9" stroke="#000" stroke-width="0.8"/>
<line x1="662.60" y1="909.0" x2="662.60" y2="911.8" stroke="#000" stroke-width="0.8"/>
<line x1="696.42" y1="909.0" x2="696.42" y2="913.9" stroke="#000" stroke-width="0.8"/>
<line x1="730.23" y1="909.0" x2="730.23" y2="911.8" stroke="#000" stroke-width="0.8"/>
<line x1="764.05" y1="909.0" x2="764.05" y2="913.9" stroke="#000" stroke-width="0.8"/>
<line x1="797.86" y1="909.0" x2="797.86" y2="911.8" stroke="#000" stroke-width="0.8"/>
<line x1="831.67" y1="909.0" x2="831.67" y2="913.9" stroke="#000" stroke-width="0.8"/>
<line x1="865.49" y1="909.0" x2="865.49" y2="911.8" stroke="#000" stroke-width="0.8"/>
<line x1="899.30" y1="909.0" x2="899.30" y2="913.9" stroke="#000" stroke-width="0.8"/>
<text x="155.40" y="930" class="cb" text-anchor="middle" textLength="46.98" lengthAdjust="spacingAndGlyphs">−7000</text>
<text x="223.03" y="930" class="cb" text-anchor="middle" textLength="46.98" lengthAdjust="spacingAndGlyphs">−6000</text>
<text x="290.65" y="930" class="cb" text-anchor="middle" textLength="46.98" lengthAdjust="spacingAndGlyphs">−5000</text>
<text x="358.28" y="930" class="cb" text-anchor="middle" textLength="46.98" lengthAdjust="spacingAndGlyphs">−4000</text>
<text x="425.91" y="930" class="cb" text-anchor="middle" textLength="46.98" lengthAdjust="spacingAndGlyphs">−3000</text>
<text x="493.54" y="930" class="cb" text-anchor="middle" textLength="46.98" lengthAdjust="spacingAndGlyphs">−2000</text>
<text x="561.16" y="930" class="cb" text-anchor="middle" textLength="46.98" lengthAdjust="spacingAndGlyphs">−1000</text>
<text x="628.79" y="930" class="cb" text-anchor="middle" textLength="8.84" lengthAdjust="spacingAndGlyphs">0</text>
<text x="696.42" y="930" class="cb" text-anchor="middle" textLength="35.35" lengthAdjust="spacingAndGlyphs">1000</text>
<text x="764.05" y="930" class="cb" text-anchor="middle" textLength="35.35" lengthAdjust="spacingAndGlyphs">2000</text>
<text x="831.67" y="930" class="cb" text-anchor="middle" textLength="35.35" lengthAdjust="spacingAndGlyphs">3000</text>
<text x="899.30" y="930" class="cb" text-anchor="middle" textLength="35.35" lengthAdjust="spacingAndGlyphs">4000</text>
<text x="527" y="950" class="cb" text-anchor="middle" textLength="85.3" lengthAdjust="spacingAndGlyphs">zsfclcldif [ft]</text>
<text x="512" y="21" class="tt" text-anchor="middle" textLength="109.3" lengthAdjust="spacingAndGlyphs">Cu Potential [ft]</text>
<text x="512.3" y="36.9" class="tt" text-anchor="middle" textLength="423.8" lengthAdjust="spacingAndGlyphs">Valid 1400 LST (1200Z) MON 13 Oct 2025 [12hrFcst@0503z]</text>
<text x="511.9" y="52.7" class="tt" text-anchor="middle" textLength="544.6" lengthAdjust="spacingAndGlyphs">FDV replot - DrJack BLIPMAP from RASP 1.3km GFSA-Initiated WRF-ARW model</text>
</svg>
</body></html>
